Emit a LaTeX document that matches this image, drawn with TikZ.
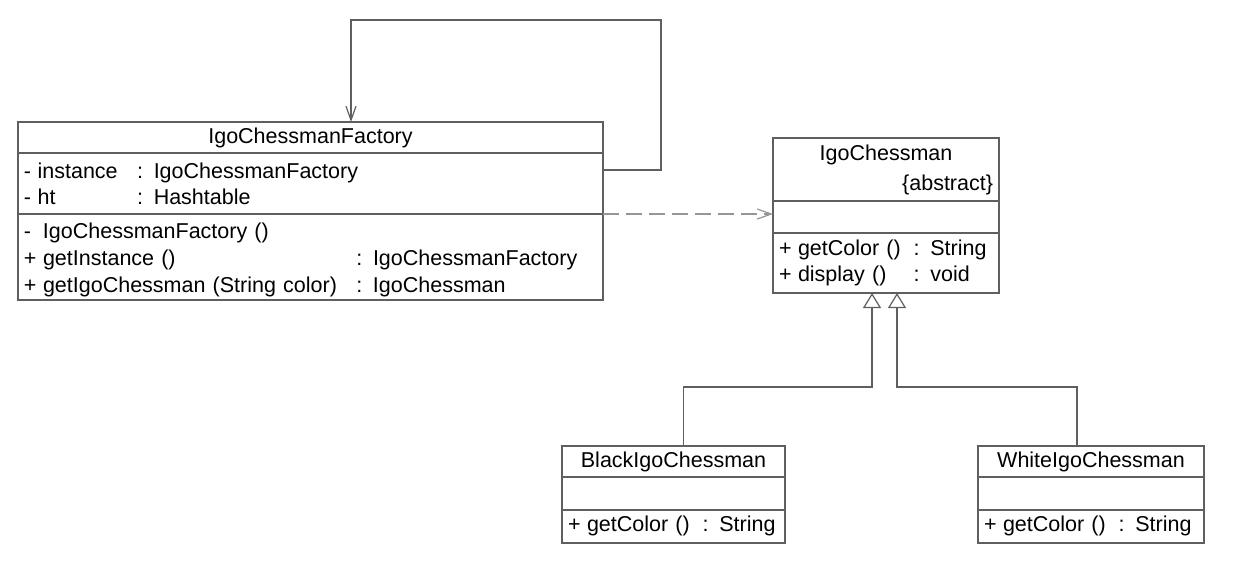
\documentclass[tikz,border=0pt]{standalone}
\usepackage{fontspec}
\setmainfont{Liberation Sans}
\usetikzlibrary{arrows.meta, positioning}
\definecolor{linecolor}{RGB}{95,95,95}
\definecolor{dashcolor}{RGB}{150,150,150}

\tikzset{
  classname/.style={draw=linecolor, line width=0.6pt, inner sep=0pt, outer sep=0pt, align=center},
  compart/.style={draw=linecolor, line width=0.6pt, inner xsep=3pt, inner ysep=0pt, outer sep=0pt, align=left, text width=#1},
  assoc/.style={draw=linecolor, line width=0.6pt, -{Straight Barb[length=7pt, width=5pt]}},
  depend/.style={draw=dashcolor, line width=0.6pt, dash pattern=on 8pt off 3.5pt, -{Straight Barb[length=7pt, width=5pt]}},
  general/.style={draw=linecolor, line width=0.6pt, -{Triangle[open, length=7.5pt, width=9pt, fill=white]}},
}

\begin{document}
\begin{tikzpicture}[x=0.5pt, y=-0.5pt, font=\fontsize{10.75}{13}\selectfont]
\useasboundingbox (0,0) rectangle (1234,570);

% factory class
\node[classname, anchor=north west, minimum width=292.5pt, minimum height=15.5pt] (fact-name) at (18,122) {IgoChessmanFactory};
\node[compart=286.5pt, minimum height=30.5pt, below=0pt of fact-name] (fact-attr) {%
  \raisebox{-1.5pt}[\height][\depth]{\begin{tabular}{@{}l@{\hspace{0.3em}}l@{\hspace{0.9em}}l@{}}
  - & instance & : IgoChessmanFactory\\
  - & ht & : Hashtable
  \end{tabular}}};
\node[compart=286.5pt, minimum height=43pt, below=0pt of fact-attr] (fact-ops) {%
  \raisebox{-1.5pt}[\height][\depth]{\begin{tabular}{@{}l@{\hspace{0.3em}}l@{\hspace{0.9em}}l@{}}
  - & IgoChessmanFactory () & \\[0.5pt]
  + & getInstance () & : IgoChessmanFactory\\[0.5pt]
  + & getIgoChessman (String color) & : IgoChessman
  \end{tabular}}};

% abstract chessman
\node[compart=107pt, align=center, minimum height=31.5pt, anchor=north west] (chess-name) at (773,138) {IgoChessman\\[2pt]\hspace*{\fill}\{abstract\}};
\node[compart=107pt, minimum height=16pt, below=0pt of chess-name] (chess-attr) {};
\node[compart=107pt, minimum height=30pt, below=0pt of chess-attr] (chess-ops) {%
  \begin{tabular}{@{}l@{\hspace{0.3em}}l@{\hspace{0.6em}}l@{}}
  + & getColor () & : String\\
  + & display () & : void
  \end{tabular}};

% concrete chessmen
\node[classname, anchor=north west, minimum width=111.5pt, minimum height=15.5pt] (black-name) at (562,446) {BlackIgoChessman};
\node[compart=105.5pt, minimum height=16.5pt, below=0pt of black-name] (black-attr) {};
\node[compart=105.5pt, minimum height=16.5pt, below=0pt of black-attr] (black-ops) {%
  \begin{tabular}{@{}l@{\hspace{0.3em}}l@{\hspace{0.6em}}l@{}}
  + & getColor () & : String
  \end{tabular}};

\node[classname, anchor=north west, minimum width=113pt, minimum height=15.5pt] (white-name) at (978,446) {WhiteIgoChessman};
\node[compart=107pt, minimum height=16.5pt, below=0pt of white-name] (white-attr) {};
\node[compart=107pt, minimum height=16.5pt, below=0pt of white-attr] (white-ops) {%
  \begin{tabular}{@{}l@{\hspace{0.3em}}l@{\hspace{0.6em}}l@{}}
  + & getColor () & : String
  \end{tabular}};

% self association of the factory
\coordinate (loop-corner) at (351,20);
\draw[assoc] ([yshift=-8.5pt]fact-attr.north east) -- ++(58,0) |- (loop-corner) -- (loop-corner |- fact-name.north);

% dependency
\draw[depend] (fact-ops.north east) -- (fact-ops.north east -| chess-attr.west);

% generalization
\draw[general] ([xshift=5pt]black-name.north) -- ++(0,-59) -| ([xshift=-7pt]chess-ops.south);
\draw[general] ([xshift=-7pt]white-name.north) -- ++(0,-59) -| ([xshift=5.5pt]chess-ops.south);
\end{tikzpicture}
\end{document}
